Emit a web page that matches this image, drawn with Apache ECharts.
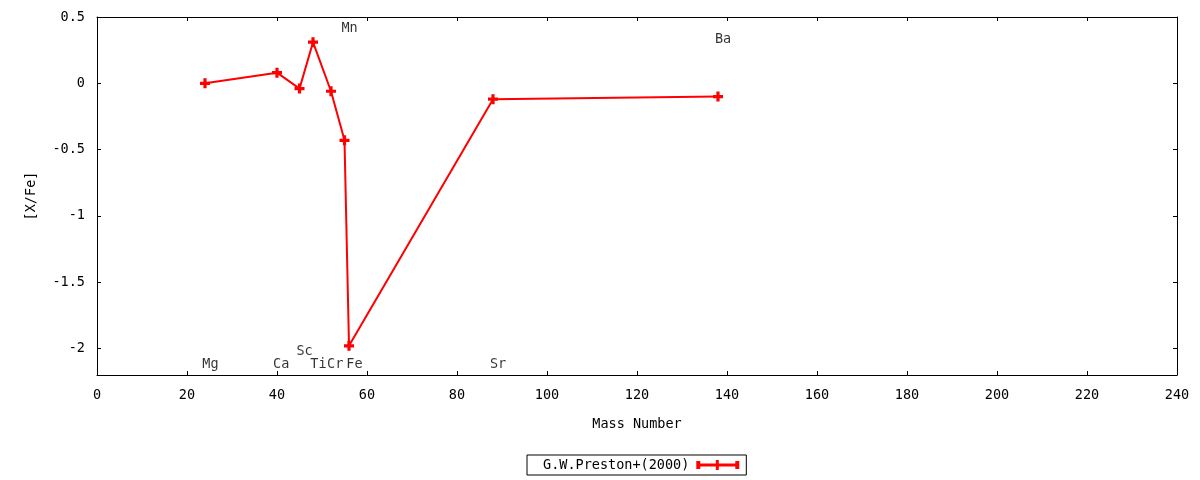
<!DOCTYPE html>
<html>
<head>
<meta charset="utf-8">
<script src="https://cdn.jsdelivr.net/npm/echarts@6/dist/echarts.min.js"></script>
<style>html,body{margin:0;padding:0;background:#fff;}#c{width:1200px;height:480px;}</style>
</head>
<body>
<div id="c"></div>
<script>
// Data
var massNumbers = [24, 40, 45, 48, 52, 55, 56, 88, 138];
var xFeValues   = [0.00, 0.08, -0.04, 0.31, -0.06, -0.43, -1.98, -0.12, -0.10];
var labelNames  = ['Mg', 'Ca', 'Sc', 'Ti', 'Cr', 'Fe', 'Sr', 'Mn', 'Ba'];
var labelX      = [23.3, 39, 44.2, 47.3, 51, 55.3, 87.2, 54.2, 137.2];
var labelY      = [-2.12, -2.12, -2.02, -2.12, -2.12, -2.12, -2.12, 0.41, 0.33];
var yTicks      = [-2, -1.5, -1, -0.5, 0, 0.5];
var seriesName  = 'G.W.Preston+(2000)';

var FONT = 'DejaVu Sans Mono';
var FS = 13.5;
var plusPath = 'path://M3.4,0H6.6V3.4H10V6.6H6.6V10H3.4V6.6H0V3.4H3.4Z';
var legendIcon = 'path://M0,1H4V3.5H19.5V0H22.5V3.5H39V1H43V9H39V6.5H22.5V10H19.5V6.5H4V9H0Z';

var chart = echarts.init(document.getElementById('c'));
var axisLine = {show: true, onZero: false, lineStyle: {color: '#000', width: 1}};
var tickStyle = {show: true, inside: true, length: 4, lineStyle: {color: '#000', width: 1}};
var labelStyle = {color: '#000', fontFamily: FONT, fontSize: FS};

chart.setOption({
  animation: false,
  backgroundColor: '#fff',
  textStyle: {fontFamily: FONT},
  grid: {left: 97, right: 23, top: 17, bottom: 105, containLabel: false},
  legend: {
    data: [{name: seriesName, icon: legendIcon}],
    left: 527, top: 455,
    align: 'right',
    itemWidth: 43, itemHeight: 10,
    padding: [3, 7, 3, 16],
    borderColor: '#000', borderWidth: 1, borderRadius: 0,
    backgroundColor: '#fff',
    textStyle: {color: '#000', fontFamily: FONT, fontSize: FS, padding: [0, 2, 0, 0]},
    selectedMode: false
  },
  xAxis: [{
    type: 'value', min: 0, max: 240, interval: 20,
    position: 'bottom',
    name: 'Mass Number', nameLocation: 'middle', nameGap: 42,
    nameTextStyle: {color: '#000', fontFamily: FONT, fontSize: FS},
    axisLine: axisLine, axisTick: tickStyle,
    axisLabel: Object.assign({margin: 13}, labelStyle),
    splitLine: {show: false}
  }, {
    type: 'value', min: 0, max: 240, interval: 20,
    position: 'top',
    axisLine: axisLine, axisTick: tickStyle,
    axisLabel: {show: false}, splitLine: {show: false}
  }],
  yAxis: [{
    type: 'value', min: -2.2, max: 0.5,
    position: 'left',
    name: '[X/Fe]', nameLocation: 'middle', nameGap: 59, nameRotate: 90,
    nameTextStyle: {color: '#000', fontFamily: FONT, fontSize: FS},
    axisLine: axisLine,
    axisTick: Object.assign({customValues: yTicks}, tickStyle),
    axisLabel: Object.assign({margin: 12, customValues: yTicks}, labelStyle),
    splitLine: {show: false}
  }, {
    type: 'value', min: -2.2, max: 0.5,
    position: 'right',
    axisLine: axisLine,
    axisTick: Object.assign({customValues: yTicks}, tickStyle),
    axisLabel: {show: false, customValues: yTicks}, splitLine: {show: false}
  }],
  series: [{
    name: seriesName,
    type: 'line',
    data: massNumbers.map(function (m, i) { return [m, xFeValues[i]]; }),
    symbol: plusPath, symbolSize: 10,
    itemStyle: {color: '#ff0000'},
    lineStyle: {color: '#ff0000', width: 2},
    z: 3
  }, {
    name: 'labels',
    type: 'scatter',
    data: labelNames.map(function (n, i) { return {value: [labelX[i], labelY[i]], name: n}; }),
    symbolSize: 1,
    itemStyle: {color: 'rgba(0,0,0,0)'},
    label: {show: true, position: 'right', distance: 0, formatter: '{b}',
            color: '#000', fontFamily: FONT, fontSize: FS},
    silent: true,
    z: 2
  }]
});
</script>
</body>
</html>
